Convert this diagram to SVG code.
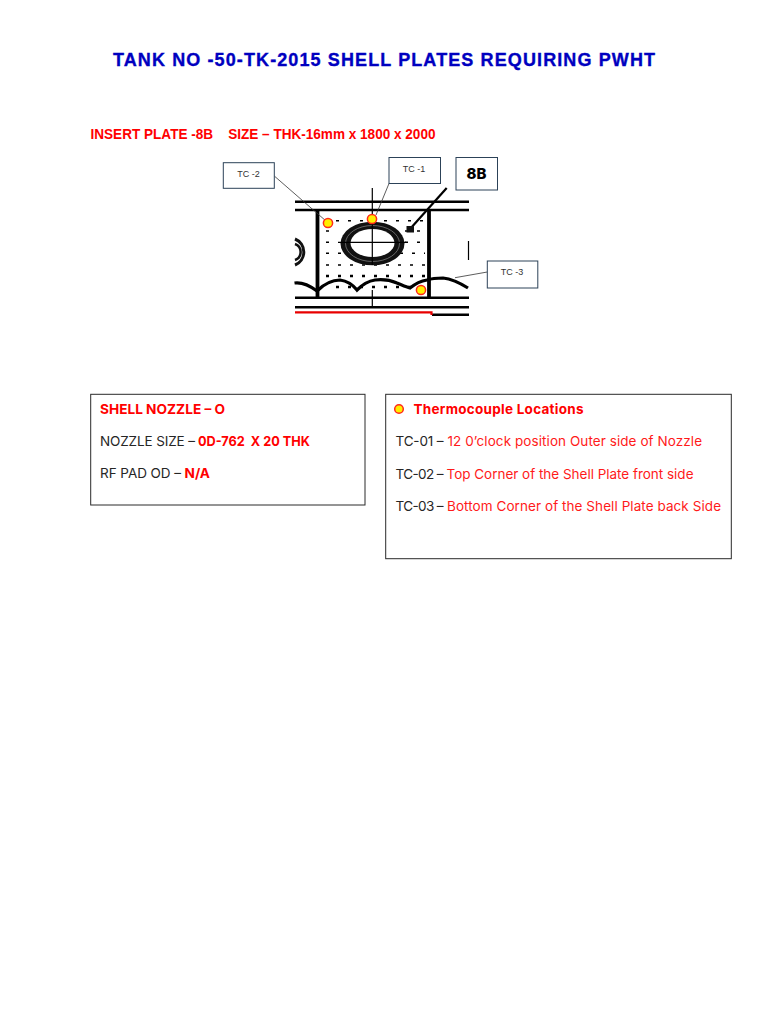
<svg xmlns="http://www.w3.org/2000/svg" width="768" height="1024" viewBox="0 0 768 1024">
<style>
.t{font-family:Inter,"Liberation Sans",sans-serif;font-size:13.500px;fill:#262626}
.r{fill:#ff1a1a}
.b{font-weight:700;fill:#ff0000}
.box{fill:#fff;stroke:#2a2a2a;stroke-width:1}
.tc{fill:#fff;stroke:#2c4258;stroke-width:1}
.tl{font-family:"Liberation Sans",sans-serif;font-size:9px;fill:#333;text-anchor:middle}
.tc-dot{fill:#ffee00;stroke:#ff2a1a;stroke-width:1.500}
.k{stroke:#000;fill:none}
.d{stroke:#000;stroke-width:1.600;fill:none;stroke-dasharray:3 9}
.lead{stroke:#333;stroke-width:.8;fill:none}
</style>
<rect width="768" height="1024" fill="#fff"/>
<text id="title" x="113" y="66" font-family="Liberation Sans" font-weight="700" font-size="18" fill="#0000c0" stroke="#0000c0" stroke-width=".35" textLength="542" lengthAdjust="spacing">TANK NO -50-TK-2015 SHELL PLATES REQUIRING PWHT</text>
<text id="subtitle" x="90.500" y="139" font-family="Liberation Sans" font-weight="700" font-size="14.500" fill="#ff0000" textLength="345" lengthAdjust="spacingAndGlyphs" xml:space="preserve">INSERT PLATE -8B    SIZE – THK-16mm x 1800 x 2000</text>
<g id="drawing">
<path class="k" stroke-width="2.500" d="M295 201.700H469M295 210H469M295 297.700H469M295 307.300H469"/>
<path class="k" stroke-width="2.500" d="M432 314.700H469"/>
<path d="M295 312.300H431.500V315" fill="none" stroke="#e80000" stroke-width="2.200"/>
<path class="k" stroke-width="3.800" d="M317.500 209V298M429 209V298"/>
<g class="d">
<path d="M336 220.700H425M326 231H336M405 231H425M326 242.300H336M405 242.300H425M326 253.300H345M400 253.300H425M326 265H425"/>
<path stroke-width="2.600" d="M326 276H425M336 287H425"/>
</g>
<ellipse cx="372.500" cy="243.500" rx="32" ry="21.800" fill="#111"/>
<ellipse cx="372.500" cy="243" rx="22" ry="14" fill="#fff"/>
<ellipse cx="372.500" cy="243.500" rx="27" ry="18" fill="none" stroke="#888" stroke-width=".7"/>
<path class="k" stroke-width="1.200" d="M372.300 188V265M372.300 290V307M338 242.300H406"/>
<path d="M295 239A14 14 0 0 1 295 265" fill="none" stroke="#111" stroke-width="3"/>
<path d="M295 244A8.500 8.500 0 0 1 295 260" fill="none" stroke="#111" stroke-width="2.500"/>
<path class="k" stroke-width="1.200" d="M468.500 241V260"/>
<path class="k" stroke-width="2.200" d="M446.700 188L410 229"/>
<rect x="406.500" y="226" width="7.500" height="6.500" fill="#111"/>
<path class="k" stroke-width="3.200" d="M294.500 283C302 282 309 285 317 291C322 286 331 280 340 280C348 281 353 285 357 290C362 285 368 281 375 280C383 279 390 280 397 283C402 285 406 287 410 288C415 284 421 281 427 280C433 278 438 278 443 278C452 279 460 283 468 288"/>
</g>
<g id="connectors">
<path class="lead" d="M274.300 176L326 221"/>
<path class="lead" d="M389 183.500L376 215"/>
<path class="lead" d="M487.300 272L455 277.700"/>
</g>
<g id="tc2"><rect class="tc" x="223.300" y="162.700" width="51" height="25.600"/><text class="tl" x="248.500" y="176.500">TC -2</text></g>
<g id="tc1"><rect class="tc" x="389" y="157.500" width="51.500" height="26"/><text class="tl" x="414" y="171.500">TC -1</text></g>
<g id="label8b"><rect class="tc" x="456" y="157.500" width="41.500" height="32.500"/><text x="476.500" y="179" font-family="Inter" font-weight="800" font-size="15" fill="#000" text-anchor="middle">8B</text></g>
<g id="tc3"><rect class="tc" x="487.300" y="261" width="50.500" height="27"/><text class="tl" x="512" y="275">TC -3</text></g>
<g id="dots">
<circle class="tc-dot" cx="372" cy="219" r="4.600"/>
<circle class="tc-dot" cx="328" cy="223" r="4.600"/>
<circle class="tc-dot" cx="421" cy="290" r="4.600"/>
</g>
<g id="nozzle-box">
<rect class="box" x="90.700" y="394.300" width="274.300" height="110.700"/>
<text class="t b" x="100" y="414" textLength="125" lengthAdjust="spacingAndGlyphs">SHELL NOZZLE – O</text>
<text class="t" x="100" y="446" textLength="95">NOZZLE SIZE –</text>
<text class="t b" x="198" y="446" textLength="112" lengthAdjust="spacingAndGlyphs" xml:space="preserve">0D-762  X 20 THK</text>
<text class="t" x="100" y="478" textLength="81">RF PAD OD –</text>
<text class="t b" x="184.500" y="478" textLength="25.500" lengthAdjust="spacingAndGlyphs">N/A</text>
</g>
<g id="thermo-box">
<rect class="box" x="385.700" y="394.300" width="345.600" height="164.400"/>
<circle class="tc-dot" cx="399" cy="409" r="4.300"/>
<text class="t b" x="413.500" y="414" textLength="170">Thermocouple Locations</text>
<text class="t" x="395.500" y="446" textLength="48">TC-01 –</text>
<text class="t r" x="447.500" y="446" textLength="254.500">12 0’clock position Outer side of Nozzle</text>
<text class="t" x="395.500" y="479" textLength="48">TC-02 –</text>
<text class="t r" x="446.500" y="479" textLength="247">Top Corner of the Shell Plate front side</text>
<text class="t" x="395.500" y="511" textLength="48">TC-03 –</text>
<text class="t r" x="447" y="511" textLength="274">Bottom Corner of the Shell Plate back Side</text>
</g>
</svg>
